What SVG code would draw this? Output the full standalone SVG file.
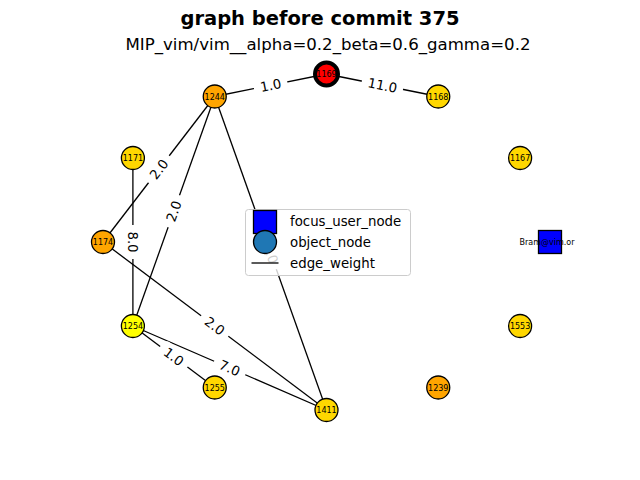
<svg xmlns="http://www.w3.org/2000/svg" width="640" height="480" viewBox="0 0 640 480">
<style>
.t{font-family:"DejaVu Sans",sans-serif;fill:#000}
.e{stroke:#000;stroke-width:1.3;fill:none}
.lb{fill:#fff}
.el{font-family:"DejaVu Sans",sans-serif;font-size:13.33px;text-anchor:middle;fill:#000}
.n{stroke:#000;stroke-width:1.3}
.nl{font-family:"DejaVu Sans",sans-serif;font-size:8px;text-anchor:middle;fill:#000}
</style>
<rect width="640" height="480" fill="#fff"/>
<text class="t" x="320" y="25" font-size="19.5" font-weight="bold" text-anchor="middle">graph before commit 375</text>
<text class="t" x="328" y="49.5" font-size="16.6" text-anchor="middle">MIP_vim/vim__alpha=0.2_beta=0.6_gamma=0.2</text>
<g id="edges">
<line class="e" x1="214.75" y1="96.5" x2="326.5" y2="74"/>
<line class="e" x1="326.5" y1="74" x2="438.25" y2="96.5"/>
<line class="e" x1="214.75" y1="96.5" x2="103" y2="242"/>
<line class="e" x1="214.75" y1="96.5" x2="132.9" y2="326"/>
<line class="e" x1="214.75" y1="96.5" x2="326.5" y2="410"/>
<line class="e" x1="132.9" y1="158" x2="132.9" y2="326"/>
<line class="e" x1="103" y1="242" x2="326.5" y2="410"/>
<line class="e" x1="132.9" y1="326" x2="214.75" y2="387.5"/>
<line class="e" x1="132.9" y1="326" x2="326.5" y2="410"/>
<g transform="translate(270.6,85.25) rotate(-11.4)"><rect class="lb" x="-17" y="-9" width="34" height="18" rx="5"/><text class="el" y="4.8">1.0</text></g>
<g transform="translate(382.4,85.25) rotate(11.4)"><rect class="lb" x="-21" y="-9" width="42" height="18" rx="5"/><text class="el" y="4.8">11.0</text></g>
<g transform="translate(158.9,169.25) rotate(-52.5)"><rect class="lb" x="-17" y="-9" width="34" height="18" rx="5"/><text class="el" y="4.8">2.0</text></g>
<g transform="translate(173.8,211.25) rotate(-70.4)"><rect class="lb" x="-17" y="-9" width="34" height="18" rx="5"/><text class="el" y="4.8">2.0</text></g>
<g transform="translate(270.6,253.25) rotate(70.4)"><rect class="lb" x="-17" y="-9" width="34" height="18" rx="5"/><text class="el" y="4.8">2.0</text></g>
<g transform="translate(132.9,242) rotate(90)"><rect class="lb" x="-17" y="-9" width="34" height="18" rx="5"/><text class="el" y="4.8">8.0</text></g>
<g transform="translate(214.75,326) rotate(36.9)"><rect class="lb" x="-17" y="-9" width="34" height="18" rx="5"/><text class="el" y="4.8">2.0</text></g>
<g transform="translate(173.8,356.75) rotate(36.9)"><rect class="lb" x="-17" y="-9" width="34" height="18" rx="5"/><text class="el" y="4.8">1.0</text></g>
<g transform="translate(229.7,368) rotate(23.5)"><rect class="lb" x="-17" y="-9" width="34" height="18" rx="5"/><text class="el" y="4.8">7.0</text></g>
</g>
<g id="n1169"><circle cx="326.5" cy="74" r="11.5" fill="#ff0000" stroke="#000" stroke-width="4"/><text class="nl" x="326.5" y="77">1169</text></g>
<g id="n1168"><circle class="n" cx="438.25" cy="96.5" r="11.5" fill="#ffd700"/><text class="nl" x="438.25" y="99.5">1168</text></g>
<g id="n1167"><circle class="n" cx="520.1" cy="158" r="11.5" fill="#ffd700"/><text class="nl" x="520.1" y="161">1167</text></g>
<g id="nBram"><rect class="n" x="538.5" y="230.5" width="23" height="23" fill="#0000ff"/><text class="nl" x="547" y="245">Bram@vim.or</text></g>
<g id="n1553"><circle class="n" cx="520.1" cy="326" r="11.5" fill="#ffd700"/><text class="nl" x="520.1" y="329">1553</text></g>
<g id="n1239"><circle class="n" cx="438.25" cy="387.5" r="11.5" fill="#ffa500"/><text class="nl" x="438.25" y="390.5">1239</text></g>
<g id="n1411"><circle class="n" cx="326.5" cy="410" r="11.5" fill="#ffd700"/><text class="nl" x="326.5" y="413">1411</text></g>
<g id="n1255"><circle class="n" cx="214.75" cy="387.5" r="11.5" fill="#ffd700"/><text class="nl" x="214.75" y="390.5">1255</text></g>
<g id="n1254"><circle class="n" cx="132.9" cy="326" r="11.5" fill="#ffff00"/><text class="nl" x="132.9" y="329">1254</text></g>
<g id="n1174"><circle class="n" cx="103" cy="242" r="11.5" fill="#ffa500"/><text class="nl" x="103" y="245">1174</text></g>
<g id="n1171"><circle class="n" cx="132.9" cy="158" r="11.5" fill="#ffd700"/><text class="nl" x="132.9" y="161">1171</text></g>
<g id="n1244"><circle class="n" cx="214.75" cy="96.5" r="11.5" fill="#ffa500"/><text class="nl" x="214.75" y="99.5">1244</text></g>
<g id="legend">
<rect x="245.5" y="209.5" width="165" height="66" rx="3" fill="#fff" fill-opacity="0.8" stroke="#cccccc" stroke-width="1"/>
<rect class="n" x="253.5" y="210.5" width="23" height="23" fill="#0000ff"/>
<circle class="n" cx="265" cy="242" r="11.5" fill="#1f77b4"/>
<line x1="251.5" y1="263" x2="278.5" y2="263" stroke="#000" stroke-width="1.3"/>
<text class="t" x="290" y="226" font-size="13.33">focus_user_node</text>
<text class="t" x="290" y="246.5" font-size="13.33">object_node</text>
<text class="t" x="290" y="268" font-size="13.33">edge_weight</text>
</g>
</svg>
